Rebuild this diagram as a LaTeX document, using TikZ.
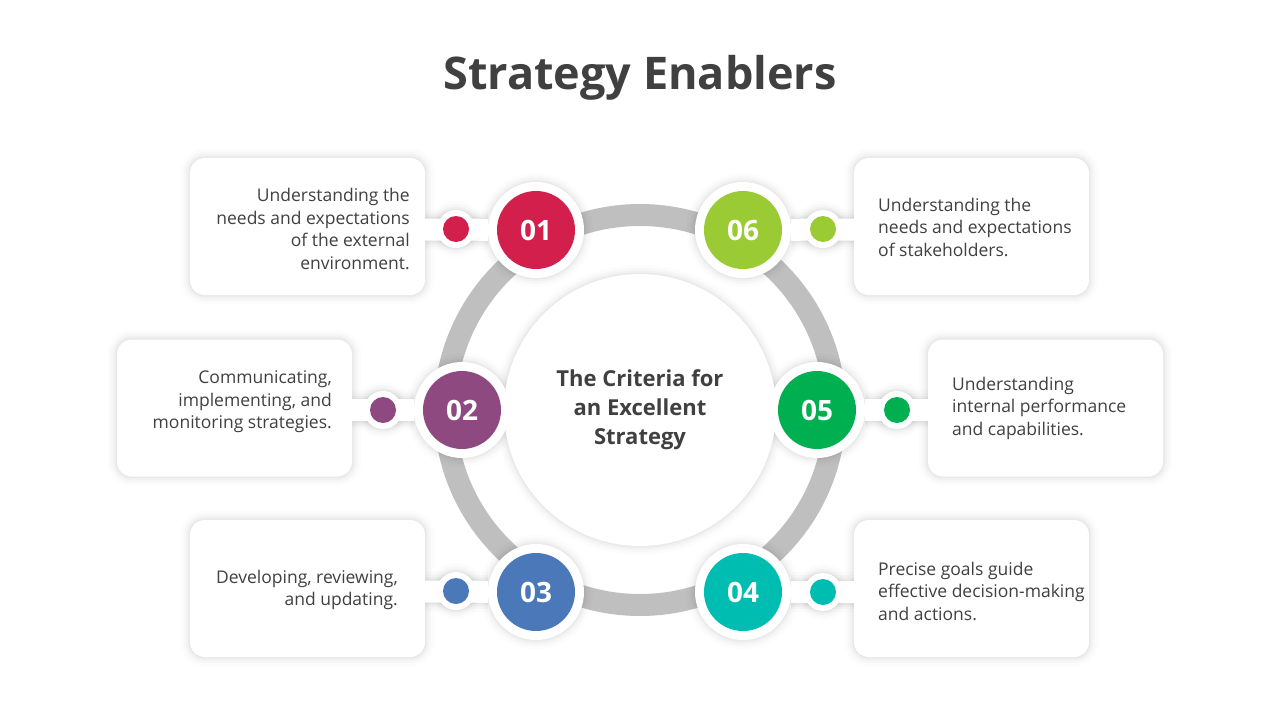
\documentclass[tikz,border=0pt]{standalone}
\usepackage{fontspec}
\setmainfont{Open Sans}
\pgfdeclarelayer{ringl}
\pgfdeclarelayer{shadowl}
\pgfsetlayers{ringl,shadowl,main}
\definecolor{txt}{HTML}{404040}
\definecolor{ringc}{HTML}{BFBFBF}
\definecolor{cA}{HTML}{D31F4B}
\definecolor{cB}{HTML}{8E4A80}
\definecolor{cC}{HTML}{4A78B8}
\definecolor{cD}{HTML}{00BDB2}
\definecolor{cE}{HTML}{00B050}
\definecolor{cF}{HTML}{9BCB34}
\tikzset{
  card/.style={fill=white, rounded corners=15pt, minimum width=235pt, minimum height=137pt, inner sep=0pt},
  halo/.style={circle, fill=white, minimum size=96pt, inner sep=0pt},
  numc/.style={circle, fill=#1, minimum size=78pt, inner sep=0pt, text=white, font=\fontsize{28}{30}\selectfont\bfseries},
  dhalo/.style={circle, fill=white, minimum size=38pt, inner sep=0pt},
  dotc/.style={circle, fill=#1, minimum size=26pt, inner sep=0pt},
  neck/.style={draw=white, line width=22pt},
  body/.style={text=txt, font=\fontsize{17.5}{22.5}\selectfont, inner sep=0pt},
  shad/.style={draw=black, opacity=#1},
}
\begin{document}
\begin{tikzpicture}[x=1pt,y=-1pt]
\useasboundingbox (0,0) rectangle (1280,720);
\begin{pgfonlayer}{ringl}
  \fill[white] (0,0) rectangle (1280,720);
  \draw[ringc, line width=22pt] (640,410) circle[radius=195pt];
\end{pgfonlayer}
% title
\node[text=txt, font=\fontsize{45}{52}\selectfont\bfseries] (title) at (640,78) {Strategy Enablers};
% center
\node[circle, fill=white, minimum size=272pt, inner sep=0pt] (ctr) at (640,410) {};
% cards
\node[card] (c1) at (307.5,226.5) {};
\node[card] (c2) at (234.5,408) {};
\node[card] (c3) at (307.5,588.5) {};
\node[card] (c4) at (971.5,588.5) {};
\node[card] (c5) at (1045.5,408) {};
\node[card] (c6) at (971.5,226.5) {};
% halos
\node[halo] (h1) at (536,230) {};
\node[halo] (h2) at (462,410) {};
\node[halo] (h3) at (536,592) {};
\node[halo] (h4) at (743,592) {};
\node[halo] (h5) at (817,410) {};
\node[halo] (h6) at (743,230) {};
\node[dhalo] (g1) at (456,229) {};
\node[dhalo] (g2) at (383,410) {};
\node[dhalo] (g3) at (456,591) {};
\node[dhalo] (g4) at (823,592) {};
\node[dhalo] (g5) at (897,410) {};
\node[dhalo] (g6) at (823,229) {};
% necks
\foreach \i in {1,...,6}{
  \draw[neck] (c\i |- g\i) -- (h\i);
}
% shadows
\begin{pgfonlayer}{shadowl}
\foreach \w/\o in {18/0.012,12/0.018,7/0.024,3/0.032}{
  \foreach \i in {1,...,6}{
    \draw[shad=\o, line width=\w pt, rounded corners=15pt] (c\i.north west) rectangle (c\i.south east);
    \draw[shad=\o, line width=\w pt] (h\i) circle[radius=48pt];
    \draw[shad=\o, line width=\w pt] (g\i) circle[radius=19pt];
    \draw[shad=\o, line width=22pt+\w pt] (c\i |- g\i) -- (h\i);
  }
  \draw[shad=\o, line width=\w pt] (ctr) circle[radius=136pt];
}
\end{pgfonlayer}
% colored circles
\node[numc=cA] (n1) at (h1) {01};
\node[numc=cB] (n2) at (h2) {02};
\node[numc=cC] (n3) at (h3) {03};
\node[numc=cD] (n4) at (h4) {04};
\node[numc=cE] (n5) at (h5) {05};
\node[numc=cF] (n6) at (h6) {06};
\node[dotc=cA] (d1) at (g1) {};
\node[dotc=cB] (d2) at (g2) {};
\node[dotc=cC] (d3) at (g3) {};
\node[dotc=cD] (d4) at (g4) {};
\node[dotc=cE] (d5) at (g5) {};
\node[dotc=cF] (d6) at (g6) {};
% center text
\node[text=txt, align=center, font=\fontsize{22}{29}\selectfont\bfseries] (ctxt) at (640,410) {The Criteria for\\an Excellent\\Strategy};
% card texts
\node[body, align=right, anchor=east] (t1) at (410,229) {Understanding the\\needs and expectations\\of the external\\environment.};
\node[body, align=right, anchor=east] (t2) at (332,402) {Communicating,\\implementing, and\\monitoring strategies.};
\node[body, align=right, anchor=east] (t3) at (398,590) {Developing, reviewing,\\and updating.};
\node[body, align=left, anchor=west] (t4) at (878,591) {Precise goals guide\\effective decision-making\\and actions.};
\node[body, align=left, anchor=west] (t5) at (952,408) {Understanding\\internal performance\\and capabilities.};
\node[body, align=left, anchor=west] (t6) at (878,227) {Understanding the\\needs and expectations\\of stakeholders.};
\end{tikzpicture}
\end{document}
